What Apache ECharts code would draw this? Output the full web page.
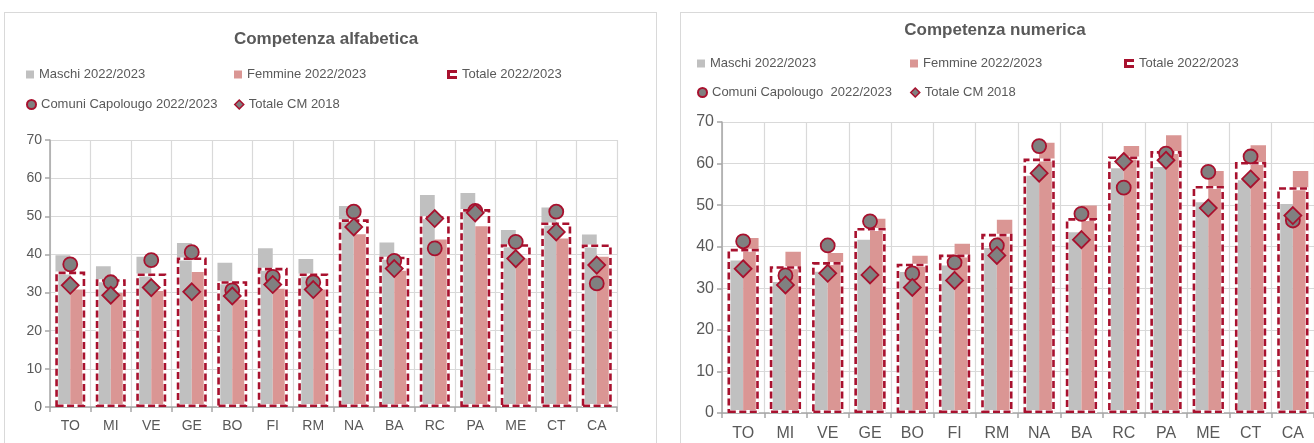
<!DOCTYPE html>
<html>
<head>
<meta charset="utf-8">
<script src="https://cdn.jsdelivr.net/npm/echarts@6/dist/echarts.min.js"></script>
<style>
html,body{margin:0;padding:0;background:#fff;overflow:hidden;width:1314px;height:443px;}
.box{position:absolute;border:1px solid #D9D9D9;background:#fff;}
</style>
</head>
<body>
<div id="c1" class="box" style="left:4px;top:12px;width:651px;height:460px;"></div>
<div id="c2" class="box" style="left:680px;top:12px;width:660px;height:460px;"></div>
<script>
// ---- Data ----
const categories = ['TO','MI','VE','GE','BO','FI','RM','NA','BA','RC','PA','ME','CT','CA'];
const yTicks = [0,10,20,30,40,50,60,70];

const legendNames = ['Maschi 2022/2023','Femmine 2022/2023','Totale 2022/2023','Comuni Capolougo 2022/2023','Totale CM 2018'];
const legendNamesNum = ['Maschi 2022/2023','Femmine 2022/2023','Totale 2022/2023','Comuni Capolougo  2022/2023','Totale CM 2018'];

// Competenza alfabetica
const alfaMaschi   = [39.8,36.9,39.4,43.0,37.8,41.6,38.8,52.7,43.1,55.6,56.1,46.4,52.3,45.2];
const alfaFemmine  = [30.8,29.9,30.4,35.4,28.2,31.0,30.8,45.3,35.7,43.9,47.4,38.9,44.2,39.4];
const alfaTotale   = [35.5,33.5,35.0,39.2,33.0,36.5,35.0,49.2,39.4,50.0,51.9,42.7,48.4,42.6];
const alfaComuni   = [37.4,32.7,38.5,40.6,30.6,34.1,32.7,51.2,38.3,41.6,51.4,43.3,51.2,32.4];
const alfaCM2018   = [31.9,29.3,31.3,30.2,29.1,32.1,30.8,47.2,36.3,49.4,50.9,38.9,45.9,37.2];

// Competenza numerica
const numMaschi    = [36.7,31.5,34.0,41.7,33.9,35.5,39.7,57.1,43.5,58.9,59.2,50.7,56.0,50.3];
const numFemmine   = [42.1,38.8,38.5,46.7,37.8,40.7,46.5,65.0,49.9,64.2,66.8,58.2,64.4,58.2];
const numTotale    = [39.5,35.3,36.3,44.5,35.9,38.1,43.1,61.2,46.9,61.7,63.0,54.6,60.4,54.3];
const numComuni    = [41.3,33.1,40.3,46.1,33.6,36.2,40.3,64.2,47.9,54.2,62.4,58.0,61.7,46.3];
const numCM2018    = [34.7,30.8,33.6,33.2,30.2,31.9,37.9,57.7,41.7,60.5,60.8,49.3,56.3,47.5];

// ---- Styles ----
const FONT = "'Liberation Sans Narrow','Arial Narrow','Liberation Sans',Arial,sans-serif";
const C_GRAY = '#C0C0C0', C_PINK = '#DA9694', C_RED = '#A8112E', C_MARK = '#808080', C_TXT = '#595959';
const TOTALE_ICON = 'path://M0,0H10V3H3V6H10V9H0Z';

function build(cfg, names, M, F, T, Cm, Cm18) {
  const lg = (name, icon, style, left, top, w, h) => ({
    data: [{name: name, icon: icon, itemStyle: style}],
    left: left, top: top, padding: 0, itemWidth: w, itemHeight: h, selectedMode: false,
    textStyle: {fontFamily: FONT, fontSize: cfg.legFont, color: C_TXT}
  });
  return {
    animation: false,
    title: {
      text: cfg.title, left: cfg.titleX, top: cfg.titleTop, textAlign: 'center', padding: 0,
      textStyle: {fontFamily: FONT, fontSize: cfg.titleFont, fontWeight: 'bold', color: C_TXT}
    },
    legend: [
      lg(names[0], 'rect', {color: C_GRAY}, cfg.legX[0], cfg.legY[0], 8, 8),
      lg(names[1], 'rect', {color: C_PINK}, cfg.legX[1], cfg.legY[0], 8, 8),
      lg(names[2], TOTALE_ICON, {color: C_RED, borderWidth: 0}, cfg.legX[2], cfg.legY[0], 10, 9),
      lg(names[3], 'circle', {color: C_MARK, borderColor: C_RED, borderWidth: 2}, cfg.legX[0], cfg.legY[1], 9, 9),
      lg(names[4], 'diamond', {color: C_MARK, borderColor: C_RED, borderWidth: 1.5}, cfg.legX[1], cfg.legY[1], 9, 9)
    ],
    grid: {left: cfg.gridLeft, top: cfg.gridTop, width: cfg.gridW, height: cfg.gridH},
    xAxis: [{
      type: 'category', data: categories, boundaryGap: true,
      axisLine: {lineStyle: {color: '#A6A6A6', width: 1.5}},
      axisTick: {show: true, length: 5, lineStyle: {color: '#A6A6A6', width: 1.5}},
      splitLine: {show: true, lineStyle: {color: '#D9D9D9', width: 1.2}},
      axisLabel: {fontFamily: FONT, fontSize: cfg.axFont, color: C_TXT, margin: cfg.xMargin}
    }, {
      type: 'category', data: categories, show: false, boundaryGap: true
    }],
    yAxis: {
      type: 'value', min: yTicks[0], max: yTicks[yTicks.length - 1], interval: 10,
      axisLine: {show: true, lineStyle: {color: '#A6A6A6', width: 1.5}},
      axisTick: {show: true, length: 5, lineStyle: {color: '#A6A6A6', width: 1.5}},
      splitLine: {show: true, lineStyle: {color: '#D9D9D9', width: 1.2}},
      axisLabel: {fontFamily: FONT, fontSize: cfg.axFont, color: C_TXT, margin: 8}
    },
    series: [
      {name: names[0], type: 'bar', xAxisIndex: 0, data: M, barWidth: '36.5%', barGap: '0%',
       itemStyle: {color: C_GRAY}, z: 2},
      {name: names[1], type: 'bar', xAxisIndex: 0, data: F, barWidth: '36.5%', barGap: '0%',
       itemStyle: {color: C_PINK}, z: 2},
      {name: 'totale_bg', type: 'bar', xAxisIndex: 1, data: T, barWidth: '74%',
       itemStyle: {color: 'rgba(0,0,0,0)', borderColor: '#FFFFFF', borderWidth: 3}, z: 3, silent: true},
      {name: names[2], type: 'bar', xAxisIndex: 1, data: T, barWidth: '74%', barGap: '-100%',
       itemStyle: {color: 'rgba(0,0,0,0)', borderColor: C_RED, borderWidth: 2.6, borderType: [7, 3.5]}, z: 4},
      {name: names[3], type: 'scatter', xAxisIndex: 0, data: Cm, symbol: 'circle', symbolSize: cfg.circ,
       itemStyle: {color: C_MARK, borderColor: C_RED, borderWidth: 1.8, opacity: 1}, z: 5},
      {name: names[4], type: 'scatter', xAxisIndex: 0, data: Cm18, symbol: 'diamond', symbolSize: cfg.diam,
       itemStyle: {color: C_MARK, borderColor: C_RED, borderWidth: 1.8, opacity: 1}, z: 6}
    ]
  };
}

const cfg1 = {
  title: 'Competenza alfabetica', titleX: 321, titleTop: 18, titleFont: 17,
  legX: [21, 229, 442], legY: [55, 85], legFont: 13,
  gridLeft: 45, gridTop: 127, gridW: 567, gridH: 267, axFont: 14, xMargin: 12,
  circ: 14, diam: 17
};
const cfg2 = {
  title: 'Competenza numerica', titleX: 314, titleTop: 9, titleFont: 17,
  legX: [16, 229, 443], legY: [44, 73], legFont: 13,
  gridLeft: 41, gridTop: 109, gridW: 592, gridH: 291, axFont: 16, xMargin: 13,
  circ: 14, diam: 17
};

const ch1 = echarts.init(document.getElementById('c1'));
ch1.setOption(build(cfg1, legendNames, alfaMaschi, alfaFemmine, alfaTotale, alfaComuni, alfaCM2018));
const ch2 = echarts.init(document.getElementById('c2'));
ch2.setOption(build(cfg2, legendNamesNum, numMaschi, numFemmine, numTotale, numComuni, numCM2018));
</script>
</body>
</html>
